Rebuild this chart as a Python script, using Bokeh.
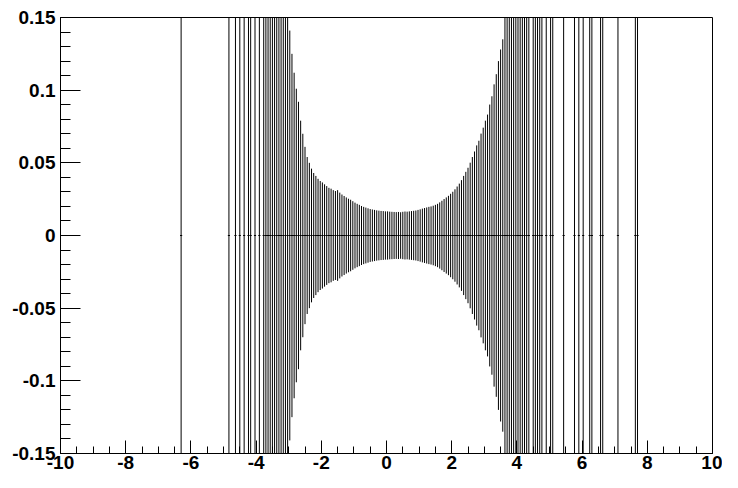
from bokeh.plotting import figure
from bokeh.models import Range1d, FixedTicker, ColumnDataSource
from bokeh.embed import file_html
from bokeh.resources import INLINE

# Histogram definition
x_min, x_max, n_bins = -10.0, 10.0, 300

# Bins with entries (content 0, error bar off-scale: only 1-2 entries)
left_sparse_bins = [55, 77, 80, 82, 84, 86, 87, 89, 91, 93, 94, 95, 96, 97, 98,
                    99, 100, 101, 102, 103, 104]
right_sparse_bins = [204, 205, 206, 207, 208, 209, 210, 211, 212, 213, 214, 215,
                     217, 218, 219, 220, 221, 223, 225, 226, 231, 236, 238, 240,
                     243, 244, 248, 249, 256, 264, 265]
sparse_error = 1.0

# Central well-populated bins: first bin index and per-bin errors (content 0)
dense_first_bin = 105
dense_errors = [
    0.141, 0.125, 0.112, 0.101, 0.092, 0.079, 0.070, 0.061, 0.054, 0.050,
    0.046, 0.043, 0.041, 0.039, 0.0375, 0.0365, 0.0352, 0.0340, 0.0328, 0.0322,
    0.0312, 0.0306, 0.0312, 0.0295, 0.0282, 0.0272, 0.0262, 0.0253, 0.0246, 0.0236,
    0.0226, 0.0218, 0.0211, 0.0203, 0.0197, 0.0192, 0.0187, 0.0182, 0.0179, 0.0176,
    0.0173, 0.0171, 0.0169, 0.0168, 0.0166, 0.0166, 0.0164, 0.0163, 0.0162, 0.0161,
    0.0162, 0.0160, 0.0163, 0.0165, 0.0164, 0.0166, 0.0168, 0.0170, 0.0172, 0.0176,
    0.0180, 0.0185, 0.0189, 0.0193, 0.0197, 0.0200, 0.0205, 0.0211, 0.0218, 0.0228,
    0.0239, 0.0251, 0.0262, 0.0273, 0.0287, 0.0301, 0.0318, 0.0337, 0.0357, 0.0381,
    0.0410, 0.0438, 0.0466, 0.0501, 0.0540, 0.0578, 0.0620, 0.0652, 0.0701, 0.0742,
    0.0790, 0.0832, 0.0901, 0.0958, 0.1040, 0.1110, 0.1200, 0.1280, 0.1350,
]

x_ticks = [-10, -8, -6, -4, -2, 0, 2, 4, 6, 8, 10]
x_tick_labels = ["-10", "-8", "-6", "-4", "-2", "0", "2", "4", "6", "8", "10"]
y_ticks = [-0.15, -0.1, -0.05, 0.0, 0.05, 0.1, 0.15]
y_tick_labels = ["-0.15", "-0.1", "-0.05", "0", "0.05", "0.1", "0.15"]

# ---- build histogram columns ----
bin_w = (x_max - x_min) / n_bins
bins = left_sparse_bins + [dense_first_bin + k for k in range(len(dense_errors))] + right_sparse_bins
errs = [sparse_error] * len(left_sparse_bins) + dense_errors + [sparse_error] * len(right_sparse_bins)
content = [0.0] * len(bins)
xc = [x_min + (b + 0.5) * bin_w for b in bins]
src = ColumnDataSource(dict(
    x=xc,
    xl=[x - bin_w / 2 for x in xc],
    xr=[x + bin_w / 2 for x in xc],
    y=content,
    lo=[c - e for c, e in zip(content, errs)],
    hi=[c + e for c, e in zip(content, errs)],
))

p = figure(width=722, height=472,
           x_range=Range1d(x_min, x_max), y_range=Range1d(-0.15, 0.15),
           output_backend="svg", toolbar_location=None,
           min_border_left=60, min_border_right=10,
           min_border_top=17, min_border_bottom=19)
p.background_fill_color = "white"
p.border_fill_color = "white"
p.xgrid.visible = False
p.ygrid.visible = False
p.outline_line_color = "black"
p.outline_line_width = 1
p.outline_line_alpha = 1.0

p.segment(x0="x", y0="lo", x1="x", y1="hi", source=src, line_color="black", line_width=1)
p.segment(x0="xl", y0="y", x1="xr", y1="y", source=src, line_color="black", line_width=1)

x_minor = [x_min + 0.5 * k for k in range(41)]
y_minor = [round(-0.15 + 0.01 * k, 4) for k in range(31)]

p.xaxis.ticker = FixedTicker(ticks=x_ticks, minor_ticks=x_minor)
p.yaxis.ticker = FixedTicker(ticks=y_ticks, minor_ticks=y_minor)
p.xaxis.major_label_overrides = {t: l for t, l in zip(x_ticks, x_tick_labels)}
p.yaxis.major_label_overrides = {t: l for t, l in zip(y_ticks, y_tick_labels)}

for ax in (p.xaxis, p.yaxis):
    ax.axis_line_color = "black"
    ax.major_tick_line_color = "black"
    ax.minor_tick_line_color = "black"
    ax.major_tick_out = 0
    ax.minor_tick_out = 0
    ax.major_label_text_font = "Liberation Sans"
    ax.major_label_text_font_style = "bold"
    ax.major_label_text_font_size = "19px"
    ax.major_label_text_color = "black"

p.xaxis.major_tick_in = 13
p.xaxis.minor_tick_in = 7
p.xaxis.major_label_standoff = 2
p.yaxis.major_tick_in = 20
p.yaxis.minor_tick_in = 10
p.yaxis.major_label_standoff = 5

open("out.html", "w").write(file_html(p, INLINE))
